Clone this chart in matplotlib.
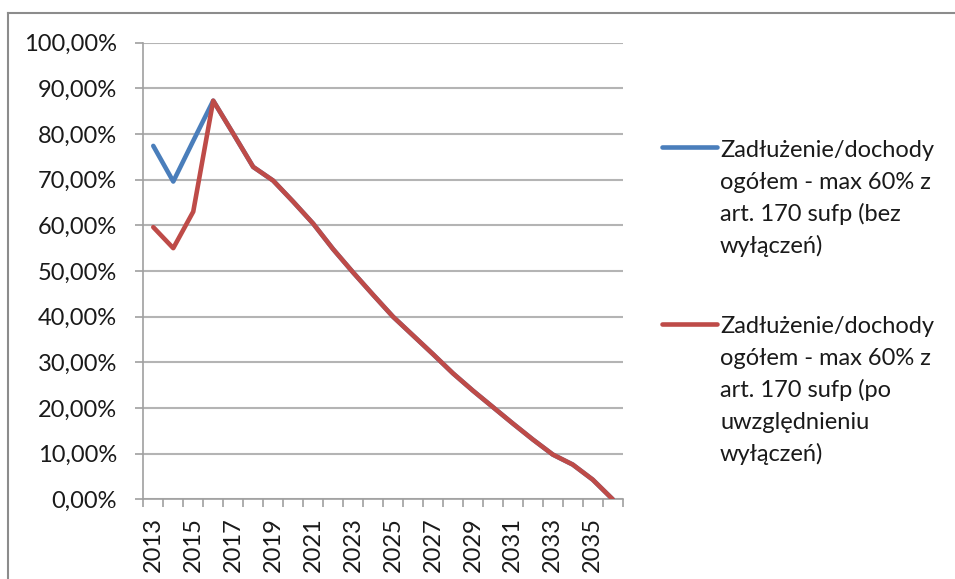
import matplotlib
matplotlib.use("Agg")
import matplotlib.pyplot as plt
from matplotlib.lines import Line2D
import numpy as np

years = list(range(2013, 2037))
bez_wylaczen = [77.4, 69.6, 78.5, 87.3, 80.1, 72.8, 69.8, 65.2, 60.4, 54.8, 49.7, 44.8,
                40.0, 35.9, 31.8, 27.6, 23.8, 20.2, 16.6, 13.1, 9.8, 7.6, 4.3, 0.0]
po_wylaczeniach = [59.6, 55.0, 63.0, 87.3, 80.1, 72.8, 69.8, 65.2, 60.4, 54.8, 49.7, 44.8,
                   40.0, 35.9, 31.8, 27.6, 23.8, 20.2, 16.6, 13.1, 9.8, 7.6, 4.3, 0.0]
yticks = [0, 10, 20, 30, 40, 50, 60, 70, 80, 90, 100]
ytick_labels = ["0,00%", "10,00%", "20,00%", "30,00%", "40,00%", "50,00%",
                "60,00%", "70,00%", "80,00%", "90,00%", "100,00%"]
legend_lines_1 = ["Zadłużenie/dochody", "ogółem - max 60% z", "art. 170 sufp (bez", "wyłączeń)"]
legend_lines_2 = ["Zadłużenie/dochody", "ogółem - max 60% z", "art. 170 sufp (po",
                  "uwzględnieniu", "wyłączeń)"]

BLUE = "#4a7ebb"
RED = "#be4b48"
FONT = ["Lato", "DejaVu Sans"]
plt.rcParams['font.family'] = FONT
FS = 17

W, H = 955, 579
fig = plt.figure(figsize=(W / 100, H / 100), dpi=100)
fig.patch.set_facecolor("white")

ax = fig.add_axes([143.3 / W, 1 - 499.3 / H, (622.7 - 143.3) / W, (499.3 - 42.7) / H])
x = np.arange(len(years))
ax.plot(x, bez_wylaczen, color=BLUE, lw=3.3, solid_capstyle='round', solid_joinstyle='round', zorder=3)
ax.plot(x, po_wylaczeniach, color=RED, lw=3.3, solid_capstyle='round', solid_joinstyle='round', zorder=4)

ax.set_xlim(-0.5, len(years) - 0.5)
ax.set_ylim(0, 100)
ax.set_yticks(yticks)
ax.set_yticklabels(ytick_labels, fontsize=FS, color="#1a1a1a")
ax.yaxis.grid(True, color="#b4b4b4", lw=1.5)
ax.set_axisbelow(True)

ax.set_xticks(np.arange(-0.5, len(years), 1.0))
ax.set_xticklabels([])
ax.set_xticks(x[::2], minor=True)
ax.set_xticklabels([str(y) for y in years[::2]], minor=True, rotation=90, fontsize=FS, color="#1a1a1a")
ax.tick_params(axis='x', which='major', length=6, width=1.2, color="#a0a0a0", direction='out')
ax.tick_params(axis='x', which='minor', length=0, pad=13)
ax.tick_params(axis='y', length=6, width=1.2, color="#a0a0a0", pad=13)

for s in ['top', 'right']:
    ax.spines[s].set_visible(False)
for s in ['left', 'bottom']:
    ax.spines[s].set_color("#a0a0a0")
    ax.spines[s].set_linewidth(1.2)

# chart border (top and left visible)
fig.add_artist(Line2D([8 / W, 1.0], [1 - 13 / H, 1 - 13 / H], color="#8c8c8c", lw=1.5, transform=fig.transFigure))
fig.add_artist(Line2D([8 / W, 8 / W], [1 - 13 / H, 0.0], color="#8c8c8c", lw=1.5, transform=fig.transFigure))

# legend
def legend_entry(color, lines, line_y, baselines):
    fig.add_artist(Line2D([662 / W, 717 / W], [1 - line_y / H, 1 - line_y / H], color=color, lw=3.3,
                          solid_capstyle='round', transform=fig.transFigure))
    for t, b in zip(lines, baselines):
        fig.text(720 / W, 1 - b / H, t, fontsize=FS, color="#1a1a1a", ha='left', va='baseline')

legend_entry(BLUE, legend_lines_1, 147, [157, 189, 221, 253])
legend_entry(RED, legend_lines_2, 324, [333, 365, 397, 429, 461])

fig.savefig("out.png", dpi=100, facecolor="white")
